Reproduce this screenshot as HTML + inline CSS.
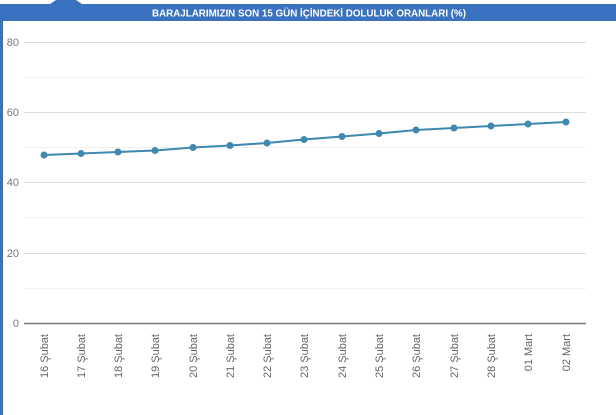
<!DOCTYPE html>
<html><head><meta charset="utf-8"><style>
html,body{margin:0;padding:0;background:#fff;}
svg{display:block;font-family:"Liberation Sans",Arial,sans-serif;}
</style></head><body>
<svg width="616" height="415" viewBox="0 0 616 415" xmlns="http://www.w3.org/2000/svg">
<rect x="0" y="0" width="616" height="415" fill="#fff"/>
<path d="M50 4 L56 0 L76 0 L82 4 Z" fill="#3a72c0"/>
<rect x="0" y="4" width="616" height="17" fill="#3a72c0"/>
<rect x="0" y="4" width="3" height="411" fill="#3a72c0"/>
<text x="309" y="16.5" text-anchor="middle" font-size="10" font-weight="bold" fill="#fff" textLength="314" lengthAdjust="spacingAndGlyphs">BARAJLARIMIZIN SON 15 GÜN İÇİNDEKİ DOLULUK ORANLARI (%)</text>
<g stroke="#f0f0f0" stroke-width="1">
<line x1="24" x2="586" y1="77.5" y2="77.5"/><line x1="24" x2="586" y1="147.5" y2="147.5"/>
<line x1="24" x2="586" y1="217.5" y2="217.5"/><line x1="24" x2="586" y1="288.5" y2="288.5"/>
</g>
<g stroke="#dcdcdc" stroke-width="1">
<line x1="24" x2="586" y1="42.5" y2="42.5"/><line x1="24" x2="586" y1="112.5" y2="112.5"/>
<line x1="24" x2="586" y1="182.5" y2="182.5"/><line x1="24" x2="586" y1="253.5" y2="253.5"/>
</g>
<line x1="24" x2="586" y1="323.5" y2="323.5" stroke="#777" stroke-width="1.5"/>
<g font-size="11" fill="#777" text-anchor="end">
<text x="19" y="46">80</text><text x="19" y="116">60</text><text x="19" y="186">40</text><text x="19" y="257">20</text><text x="19" y="327">0</text>
</g>
<polyline fill="none" stroke="#3f88b0" stroke-width="2" points="44,155 81,153.5 118,152 155,150.5 193,147.5 230,145.5 267,143 304,139.5 342,136.5 379,133.5 416,130 454,128 491,126 528,124 566,122"/>
<g fill="#3f88b0">
<circle cx="44" cy="155" r="3.5"/><circle cx="81" cy="153.5" r="3.5"/><circle cx="118" cy="152" r="3.5"/><circle cx="155" cy="150.5" r="3.5"/><circle cx="193" cy="147.5" r="3.5"/><circle cx="230" cy="145.5" r="3.5"/><circle cx="267" cy="143" r="3.5"/><circle cx="304" cy="139.5" r="3.5"/><circle cx="342" cy="136.5" r="3.5"/><circle cx="379" cy="133.5" r="3.5"/><circle cx="416" cy="130" r="3.5"/><circle cx="454" cy="128" r="3.5"/><circle cx="491" cy="126" r="3.5"/><circle cx="528" cy="124" r="3.5"/><circle cx="566" cy="122" r="3.5"/>
</g>
<g font-size="11" fill="#666" text-anchor="end">
<text transform="translate(48,334) rotate(-90)">16 Şubat</text>
<text transform="translate(85,334) rotate(-90)">17 Şubat</text>
<text transform="translate(122,334) rotate(-90)">18 Şubat</text>
<text transform="translate(159,334) rotate(-90)">19 Şubat</text>
<text transform="translate(197,334) rotate(-90)">20 Şubat</text>
<text transform="translate(234,334) rotate(-90)">21 Şubat</text>
<text transform="translate(271,334) rotate(-90)">22 Şubat</text>
<text transform="translate(308,334) rotate(-90)">23 Şubat</text>
<text transform="translate(346,334) rotate(-90)">24 Şubat</text>
<text transform="translate(383,334) rotate(-90)">25 Şubat</text>
<text transform="translate(420,334) rotate(-90)">26 Şubat</text>
<text transform="translate(458,334) rotate(-90)">27 Şubat</text>
<text transform="translate(495,334) rotate(-90)">28 Şubat</text>
<text transform="translate(532,334) rotate(-90)">01 Mart</text>
<text transform="translate(570,334) rotate(-90)">02 Mart</text>
</g>
</svg>
</body></html>
